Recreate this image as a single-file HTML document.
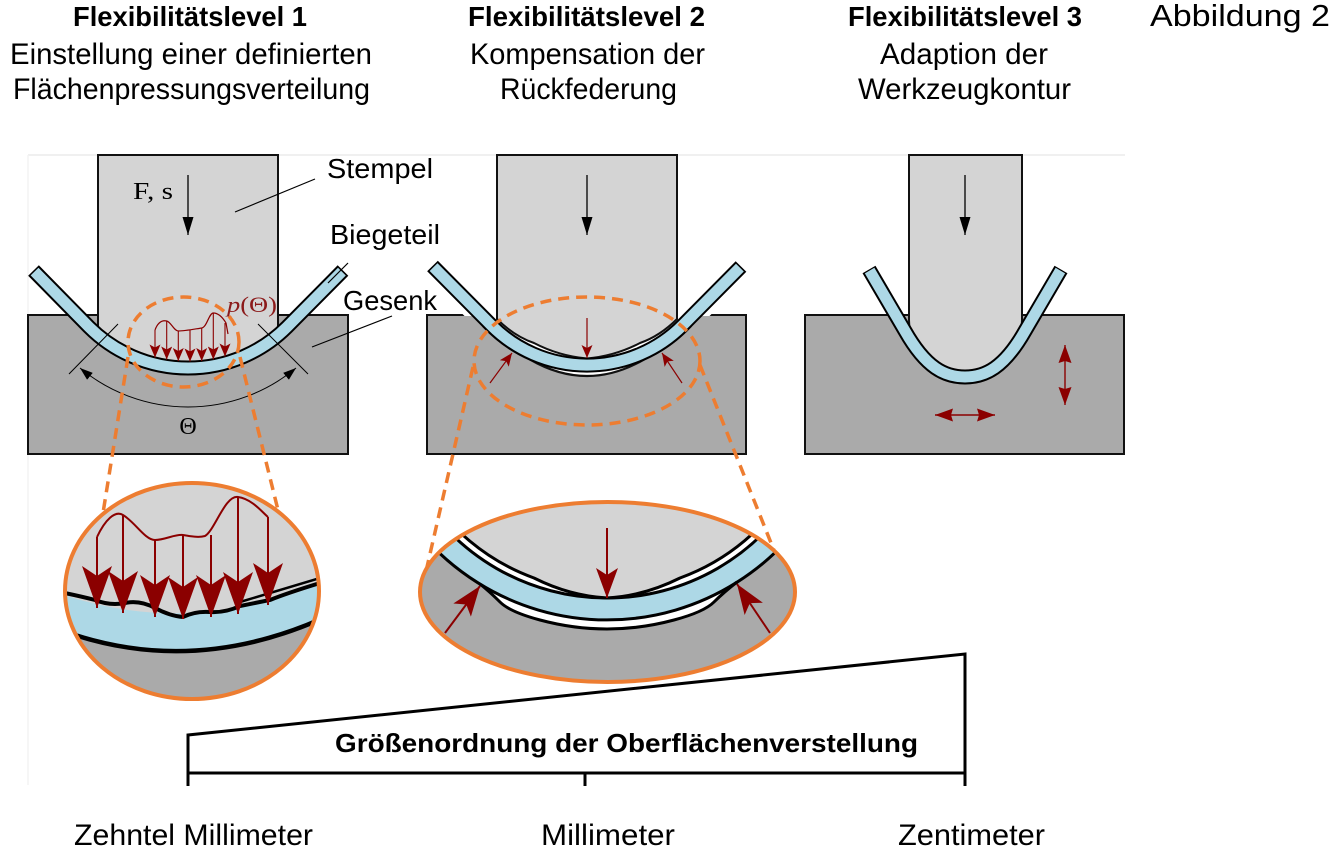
<!DOCTYPE html>
<html>
<head>
<meta charset="utf-8">
<style>
  html, body { margin: 0; padding: 0; background: #fff; }
  svg { display: block; }
  .sans { font-family: "Liberation Sans", Arial, sans-serif; }
  .serif { font-family: "Liberation Serif", "DejaVu Serif", serif; }
</style>
</head>
<body>
<svg width="1338" height="847" viewBox="0 0 1338 847" xmlns="http://www.w3.org/2000/svg">
  <defs>
    <marker id="aBlk" viewBox="0 0 18 11" refX="18" refY="5.5" markerWidth="18" markerHeight="11" markerUnits="userSpaceOnUse" orient="auto">
      <path d="M0,0 L18,5.5 L0,11 Z" fill="#000"/>
    </marker>
    <marker id="aTh" viewBox="0 0 13 9" refX="13" refY="4.5" markerWidth="13" markerHeight="9" markerUnits="userSpaceOnUse" orient="auto-start-reverse">
      <path d="M0,0 L13,4.5 L0,9 Z" fill="#000"/>
    </marker>
    <marker id="rS" viewBox="0 0 13 11" refX="13" refY="5.5" markerWidth="13" markerHeight="11" markerUnits="userSpaceOnUse" orient="auto">
      <path d="M0,0 L13,5.5 L0,11 L3,5.5 Z" fill="#8b0000"/>
    </marker>
    <marker id="rM" viewBox="0 0 30 22" refX="30" refY="11" markerWidth="30" markerHeight="22" markerUnits="userSpaceOnUse" orient="auto">
      <path d="M0,0 L30,11 L0,22 L7,11 Z" fill="#8b0000"/>
    </marker>
    <marker id="rL" viewBox="0 0 42 30" refX="42" refY="15" markerWidth="42" markerHeight="30" markerUnits="userSpaceOnUse" orient="auto">
      <path d="M0,0 L42,15 L0,30 L10,15 Z" fill="#8b0000"/>
    </marker>
    <marker id="rD" viewBox="0 0 18 13" refX="18" refY="6.5" markerWidth="18" markerHeight="13" markerUnits="userSpaceOnUse" orient="auto-start-reverse">
      <path d="M0,0 L18,6.5 L0,13 L2,6.5 Z" fill="#8b0000"/>
    </marker>
    <clipPath id="c1"><ellipse cx="192" cy="591" rx="127" ry="108"/></clipPath>
    <clipPath id="c2"><ellipse cx="607.5" cy="592" rx="187.5" ry="90"/></clipPath>
  </defs>

  <rect width="1338" height="847" fill="#fff"/>

  <!-- faint image frame -->
  <line x1="28" y1="155" x2="1125" y2="155" stroke="#ebebeb" stroke-width="1.5"/>
  <line x1="28" y1="155" x2="28" y2="785" stroke="#f3f3f3" stroke-width="1.5"/>

  <!-- ===== Headers ===== -->
  <g class="sans" fill="#000">
    <text x="73" y="26" font-weight="bold" font-size="28" textLength="234" lengthAdjust="spacingAndGlyphs">Flexibilitätslevel 1</text>
    <text x="10" y="64" font-size="30" textLength="362" lengthAdjust="spacingAndGlyphs">Einstellung einer definierten</text>
    <text x="13" y="99" font-size="30" textLength="357" lengthAdjust="spacingAndGlyphs">Flächenpressungsverteilung</text>

    <text x="468" y="26" font-weight="bold" font-size="28" textLength="237" lengthAdjust="spacingAndGlyphs">Flexibilitätslevel 2</text>
    <text x="470" y="64" font-size="30" textLength="235" lengthAdjust="spacingAndGlyphs">Kompensation der</text>
    <text x="500" y="99" font-size="30" textLength="177" lengthAdjust="spacingAndGlyphs">Rückfederung</text>

    <text x="848" y="26" font-weight="bold" font-size="28" textLength="234" lengthAdjust="spacingAndGlyphs">Flexibilitätslevel 3</text>
    <text x="880" y="64" font-size="30" textLength="168" lengthAdjust="spacingAndGlyphs">Adaption der</text>
    <text x="858" y="99" font-size="30" textLength="213" lengthAdjust="spacingAndGlyphs">Werkzeugkontur</text>

    <text x="1150" y="26" font-size="31" textLength="180" lengthAdjust="spacingAndGlyphs">Abbildung 2</text>
  </g>

  <!-- ===== Panel 1 ===== -->
  <rect x="28" y="315" width="320" height="139" fill="#aaa" stroke="#111" stroke-width="2"/>
  <rect x="98" y="155" width="180" height="215" fill="#d4d4d4" stroke="#111" stroke-width="2"/>
  <path d="M29 316 H79 L89 327 A140 140 0 0 0 287 327 L298 316 H347 V453 H29 Z" fill="#aaa"/>
  <path d="M33.5 270.5 L89 327 A140 140 0 0 0 287 327 L343 270.5" fill="none" stroke="#000" stroke-width="15"/>
  <path d="M33.5 270.5 L89 327 A140 140 0 0 0 287 327 L343 270.5" fill="none" stroke="#add8e6" stroke-width="11" pathLength="1000" stroke-dasharray="0 4 992 100"/>

  <!-- F, s arrow -->
  <text x="133" y="199" class="serif" font-size="24" textLength="40" lengthAdjust="spacingAndGlyphs">F, s</text>
  <line x1="188" y1="175" x2="188" y2="235" stroke="#000" stroke-width="1.3" marker-end="url(#aBlk)"/>

  <!-- leaders + labels -->
  <line x1="315" y1="179" x2="235" y2="212" stroke="#000" stroke-width="1.2"/>
  <line x1="348" y1="263" x2="328" y2="283" stroke="#000" stroke-width="1.2"/>
  <line x1="392" y1="316" x2="312" y2="347" stroke="#000" stroke-width="1.2"/>
  <g class="sans" font-size="28">
    <text x="327" y="178" textLength="106" lengthAdjust="spacingAndGlyphs">Stempel</text>
    <text x="330" y="244" textLength="110" lengthAdjust="spacingAndGlyphs">Biegeteil</text>
    <text x="343" y="310" textLength="94" lengthAdjust="spacingAndGlyphs">Gesenk</text>
  </g>

  <!-- Theta -->
  <line x1="118" y1="324" x2="69" y2="374" stroke="#000" stroke-width="1"/>
  <line x1="258" y1="324" x2="308" y2="374" stroke="#000" stroke-width="1"/>
  <path d="M80 368 A169 169 0 0 0 296 368" fill="none" stroke="#000" stroke-width="1" marker-start="url(#aTh)" marker-end="url(#aTh)"/>
  <text x="188" y="434" text-anchor="middle" class="serif" font-size="24">Θ</text>

  <!-- pressure distribution small -->
  <path d="M155 330 C158 322 162 320 166.7 321 C171 322 174 331 178.3 331 C185 331 195 329 201.7 328 C207 327 209 313 213.3 313 C219 313 223 318 226 323 L228 334" fill="none" stroke="#8b0000" stroke-width="1.2"/>
  <g stroke="#8b0000" stroke-width="1.1" fill="none">
    <line x1="155" y1="330" x2="155" y2="357.5" marker-end="url(#rS)"/>
    <line x1="166.7" y1="321" x2="166.7" y2="359.5" marker-end="url(#rS)"/>
    <line x1="178.3" y1="331" x2="178.3" y2="361" marker-end="url(#rS)"/>
    <line x1="190" y1="330" x2="190" y2="361.5" marker-end="url(#rS)"/>
    <line x1="201.7" y1="328" x2="201.7" y2="361" marker-end="url(#rS)"/>
    <line x1="213.3" y1="313" x2="213.3" y2="359.5" marker-end="url(#rS)"/>
    <line x1="225" y1="323" x2="225" y2="356.5" marker-end="url(#rS)"/>
  </g>
  <text x="227" y="312" class="serif" font-size="22" fill="#8b1a1a" textLength="50" lengthAdjust="spacingAndGlyphs"><tspan font-style="italic">p</tspan>(Θ)</text>

  <!-- ===== Panel 2 ===== -->
  <rect x="427" y="315" width="319" height="139" fill="#aaa" stroke="#111" stroke-width="2"/>
  <path d="M432.5 266 L491.5 325.5 A135 135 0 0 0 682.5 325.5 L741 266.5" fill="none" stroke="#fff" stroke-width="25"/>
  <path d="M497 155 H677 V319 Q660 336 640 343 Q615 356 587 358.5 Q559 356 534 343 Q514 336 497 319 Z" fill="#d4d4d4" stroke="#111" stroke-width="2"/>
  <path d="M428 316 H472 L483 326 A141.5 141.5 0 0 0 530 359.5 Q587 392.5 644 359.5 A141.5 141.5 0 0 0 691 326 L702 316 H745 V453 H428 Z" fill="#aaa"/>
  <path d="M483 326 A141.5 141.5 0 0 0 530 359.5 Q587 392.5 644 359.5 A141.5 141.5 0 0 0 691 326" fill="none" stroke="#111" stroke-width="2.2"/>
  <path d="M432.5 266 L491.5 325.5 A135 135 0 0 0 682.5 325.5 L741 266.5" fill="none" stroke="#000" stroke-width="15"/>
  <path d="M432.5 266 L491.5 325.5 A135 135 0 0 0 682.5 325.5 L741 266.5" fill="none" stroke="#add8e6" stroke-width="11" pathLength="1000" stroke-dasharray="0 4 992 100"/>
  <line x1="587" y1="175" x2="587" y2="235" stroke="#000" stroke-width="1.3" marker-end="url(#aBlk)"/>
  <g stroke="#8b0000" stroke-width="1.2">
    <line x1="587" y1="318" x2="587" y2="358" marker-end="url(#rS)"/>
    <line x1="490" y1="383" x2="512" y2="353" marker-end="url(#rS)"/>
    <line x1="682" y1="383" x2="662" y2="353" marker-end="url(#rS)"/>
  </g>

  <!-- ===== Panel 3 ===== -->
  <rect x="805" y="315" width="319" height="139" fill="#aaa" stroke="#111" stroke-width="2"/>
  <path d="M909 155 H1022 V320 C1022 345 1000 372 965 372 C930 372 909 345 909 320 Z" fill="#d4d4d4" stroke="#111" stroke-width="2"/>
  <path d="M806 316 H896 L905 331 C926 368 945 377 965 377 C985 377 1004 368 1025 331 L1034 316 H1123 V453 H806 Z" fill="#aaa"/>
  <path d="M869 269.5 L905 331 C926 368 945 377 965 377 C985 377 1004 368 1025 331 L1061 269.5" fill="none" stroke="#000" stroke-width="15"/>
  <path d="M869 269.5 L905 331 C926 368 945 377 965 377 C985 377 1004 368 1025 331 L1061 269.5" fill="none" stroke="#add8e6" stroke-width="11" pathLength="1000" stroke-dasharray="0 4 992 100"/>
  <line x1="965" y1="175" x2="965" y2="235" stroke="#000" stroke-width="1.3" marker-end="url(#aBlk)"/>
  <g stroke="#8b0000" stroke-width="1.4">
    <line x1="1065" y1="345" x2="1065" y2="405" marker-start="url(#rD)" marker-end="url(#rD)"/>
    <line x1="935" y1="415" x2="995" y2="415" marker-start="url(#rD)" marker-end="url(#rD)"/>
  </g>

  <!-- ===== Dashed highlight ellipses and connectors ===== -->
  <g fill="none" stroke="#ed7d31" stroke-width="3.5" stroke-dasharray="11 7">
    <ellipse cx="183.5" cy="342" rx="55.5" ry="45"/>
    <line x1="128" y1="357" x2="103" y2="513"/>
    <line x1="240" y1="357" x2="278" y2="510"/>
    <ellipse cx="587" cy="361" rx="113" ry="64"/>
    <line x1="473" y1="367" x2="427" y2="567"/>
    <line x1="700" y1="365" x2="789" y2="588"/>
  </g>

  <!-- ===== Zoom 1 ===== -->
  <g clip-path="url(#c1)">
    <rect x="60" y="480" width="270" height="230" fill="#d4d4d4"/>
    <path d="M55 628 Q190 680 330 615 L330 710 L55 710 Z" fill="#aaa"/>
    <path d="M55 592 Q190 640 330 580 L330 615 Q190 680 55 628 Z" fill="#add8e6"/>
    <path d="M240 602 Q280 590 330 575" fill="none" stroke="#000" stroke-width="2.5"/>
    <path d="M55 591 Q80 596 95 600 Q110 606 125 603 Q140 600 155 608 Q170 616 183 617 Q195 611 210 612 Q225 613 240 606 Q255 603 270 600 Q290 592 330 580" fill="none" stroke="#000" stroke-width="4"/>
    <path d="M55 628 Q190 680 330 615" fill="none" stroke="#000" stroke-width="4.5"/>
  </g>
  <ellipse cx="192" cy="591" rx="127" ry="108" fill="none" stroke="#ed7d31" stroke-width="4"/>
  <path d="M97 537 C105 520 115 510 123 515 C135 522 145 540 155 540 C165 540 175 534 183 535 C190 536 198 538 205 536 C215 530 225 495 238 497 C252 499 262 512 268 517" fill="none" stroke="#8b0000" stroke-width="2"/>
  <g stroke="#8b0000" stroke-width="2">
    <line x1="97" y1="537" x2="97" y2="608" marker-end="url(#rL)"/>
    <line x1="123" y1="515" x2="123" y2="613" marker-end="url(#rL)"/>
    <line x1="155" y1="540" x2="155" y2="617" marker-end="url(#rL)"/>
    <line x1="183" y1="535" x2="183" y2="619" marker-end="url(#rL)"/>
    <line x1="211" y1="535" x2="211" y2="617" marker-end="url(#rL)"/>
    <line x1="238" y1="497" x2="238" y2="614" marker-end="url(#rL)"/>
    <line x1="268" y1="517" x2="268" y2="605" marker-end="url(#rL)"/>
  </g>

  <!-- ===== Zoom 2 ===== -->
  <g clip-path="url(#c2)">
    <rect x="415" y="495" width="390" height="200" fill="#fff"/>
    <path d="M396.6 498.5 A243 243 0 0 0 480 584 Q490 592 500 602 Q510 612 540 620 Q607 638 674 620 Q704 612 714 602 Q724 592 737 582 A243 243 0 0 0 817.4 498.5 L817 700 L396 700 Z" fill="#aaa"/>
    <path d="M421.7 484 A214 214 0 0 0 534 578 Q570 596 607 598 Q644 596 680 578 A214 214 0 0 0 792.3 484 L792 400 L421 400 Z" fill="#d4d4d4"/>
    <path d="M406.1 493 A232 232 0 0 0 807.9 493" fill="none" stroke="#add8e6" stroke-width="22"/>
    <path d="M415.6 487.5 A221 221 0 0 0 798.4 487.5" fill="none" stroke="#000" stroke-width="3"/>
    <path d="M396.6 498.5 A243 243 0 0 0 817.4 498.5" fill="none" stroke="#000" stroke-width="3"/>
    <path d="M421.7 484 A214 214 0 0 0 534 578 Q570 596 607 598 Q644 596 680 578 A214 214 0 0 0 792.3 484" fill="none" stroke="#000" stroke-width="3"/>
    <path d="M480 584 Q490 592 500 602 Q510 612 540 620 Q607 638 674 620 Q704 612 714 602 Q724 592 737 582" fill="none" stroke="#000" stroke-width="3"/>
  </g>
  <ellipse cx="607.5" cy="592" rx="187.5" ry="90" fill="none" stroke="#ed7d31" stroke-width="4"/>
  <g stroke="#8b0000" stroke-width="2">
    <line x1="607" y1="528" x2="607" y2="598" marker-end="url(#rM)"/>
    <line x1="445" y1="633" x2="480" y2="586" marker-end="url(#rM)"/>
    <line x1="770" y1="633" x2="737" y2="584" marker-end="url(#rM)"/>
  </g>

  <!-- ===== Scale wedge ===== -->
  <g fill="none" stroke="#000" stroke-width="3">
    <path d="M188 786 V735 L965 654 V786"/>
    <line x1="188" y1="773" x2="965" y2="773"/>
    <line x1="585" y1="773" x2="585" y2="786"/>
  </g>
  <text x="335" y="752" class="sans" font-weight="bold" font-size="26" textLength="583" lengthAdjust="spacingAndGlyphs">Größenordnung der Oberflächenverstellung</text>

  <g class="sans" font-size="30">
    <text x="74" y="845" textLength="239" lengthAdjust="spacingAndGlyphs">Zehntel Millimeter</text>
    <text x="541" y="845" textLength="134" lengthAdjust="spacingAndGlyphs">Millimeter</text>
    <text x="898" y="845" textLength="147" lengthAdjust="spacingAndGlyphs">Zentimeter</text>
  </g>
</svg>
</body>
</html>
